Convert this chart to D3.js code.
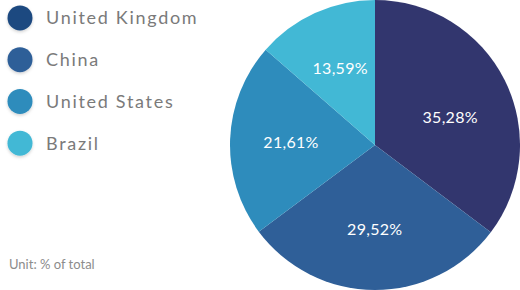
<!DOCTYPE html>
<html>
<head>
<meta charset="utf-8">
<script src="https://cdn.jsdelivr.net/npm/d3@7"></script>
<style>
  body { margin: 0; background: #fff; }
  svg { display: block; font-family: Lato, "Open Sans", sans-serif; }
</style>
</head>
<body>
<svg id="chart" width="520" height="290"></svg>
<script>
const countries = ['United Kingdom', 'China', 'United States', 'Brazil'];
const shares = [35.28, 29.52, 21.61, 13.59];
const sliceColors = ['#32366e', '#2f5f98', '#2e8cbc', '#42b8d5'];
const legendColors = ['#1c4a80', '#2f5f98', '#2e8cbc', '#42b8d5'];
const unitLabel = 'Unit: % of total';

const svg = d3.select('#chart');

const defs = svg.append('defs');
const shadow = defs.append('filter').attr('id', 'dotShadow')
  .attr('x', '-50%').attr('y', '-50%').attr('width', '200%').attr('height', '200%');
shadow.append('feDropShadow')
  .attr('dx', 0).attr('dy', 1.5).attr('stdDeviation', 1.5)
  .attr('flood-color', '#000').attr('flood-opacity', 0.18);

// legend
const legendY = d3.scaleBand().domain(countries).range([-3, 164]);
const legend = svg.append('g').selectAll('g')
  .data(countries)
  .join('g')
  .attr('transform', d => `translate(20,${legendY(d) + legendY.bandwidth() / 2})`);

legend.append('circle')
  .attr('r', 12.5)
  .attr('fill', (d, i) => legendColors[i])
  .attr('filter', 'url(#dotShadow)');

legend.append('text')
  .attr('x', 26)
  .attr('dy', '0.36em')
  .style('font-size', '18px')
  .style('letter-spacing', '1.7px')
  .attr('fill', '#7a7a7a')
  .text(d => d);

svg.append('text')
  .attr('x', 9)
  .attr('y', 269)
  .style('font-size', '13px')
  .attr('fill', '#8c8c8c')
  .text(unitLabel);

// pie
const radius = 145;
const pieG = svg.append('g').attr('transform', 'translate(375,145)');
const pie = d3.pie().sort(null).value(d => d)(shares);
const arc = d3.arc().innerRadius(0).outerRadius(radius);
const labelArc = d3.arc().innerRadius(84).outerRadius(84);

pieG.selectAll('path')
  .data(pie)
  .join('path')
  .attr('d', arc)
  .attr('fill', (d, i) => sliceColors[i]);

pieG.selectAll('text')
  .data(pie)
  .join('text')
  .attr('transform', (d, i) => {
    const [x, y] = labelArc.centroid(d);
    // the largest slice's label sits a little lower in the reference
    return `translate(${x},${i === 0 ? y + 10 : y})`;
  })
  .attr('text-anchor', 'middle')
  .attr('dy', '0.36em')
  .style('font-size', '16px')
  .style('letter-spacing', '0.3px')
  .attr('fill', '#fff')
  .text(d => d3.format('.2f')(d.data).replace('.', ',') + '%');
</script>
</body>
</html>
